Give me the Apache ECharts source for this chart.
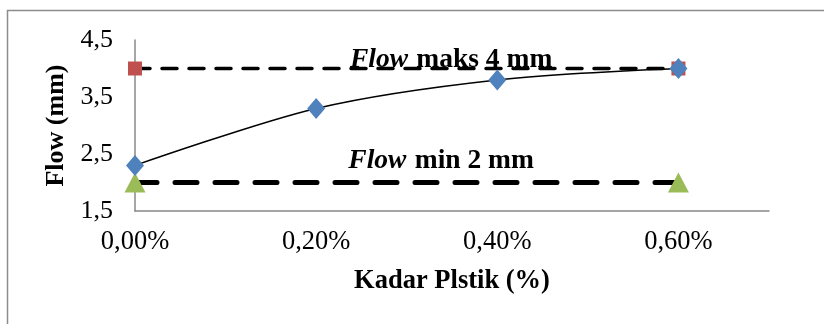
<!DOCTYPE html>
<html>
<head>
<meta charset="utf-8">
<script src="https://cdn.jsdelivr.net/npm/echarts@6/dist/echarts.min.js"></script>
<style>html,body{margin:0;padding:0;background:#fff}#c{width:824px;height:324px}</style>
</head>
<body>
<div id="c"></div>
<script>
var xTicks = [0, 0.2, 0.4, 0.6];
var yTicks = [1.5, 2.5, 3.5, 4.5];
var kadar = [0, 0.2, 0.4, 0.6];
var flow = [2.3, 3.3, 3.8, 4.0];
var maksX = [0, 0.6];
var maksY = [4, 4];
var minX = [0, 0.6];
var minY = [2, 2];

function pairs(xs, ys) { return xs.map(function (x, i) { return [x, ys[i]]; }); }
var FONT = 'Liberation Serif';
function fmt(d) { return function (v) { return v.toFixed(d).replace('.', ',') + (d === 2 ? '%' : ''); }; }

var chart = echarts.init(document.getElementById('c'), null, {renderer: 'canvas'});
var rich = {
  i: {fontFamily: FONT, fontSize: 27.5, fontWeight: 'bold', fontStyle: 'italic', color: '#000', padding: [0, 5, 0, 0]},
  b: {fontFamily: FONT, fontSize: 27.5, fontWeight: 'bold', color: '#000'}
};
chart.setOption({
  animation: false,
  backgroundColor: '#fff',
  graphic: [{
    type: 'rect', shape: {x: 7.5, y: 10.5, width: 900, height: 400},
    style: {fill: 'none', stroke: '#8c8c8c', lineWidth: 1.5}, silent: true, z: -10
  }],
  grid: {left: 135, right: 55, top: 40, bottom: 113},
  xAxis: {
    type: 'value', min: 0, max: 0.7,
    name: 'Kadar Plstik (%)', nameLocation: 'middle', nameGap: 57,
    nameTextStyle: {fontFamily: FONT, fontSize: 26.5, fontWeight: 'bold', color: '#000'},
    axisLine: {show: true, lineStyle: {color: '#888', width: 1.5}},
    axisTick: {show: false},
    splitLine: {show: false},
    axisLabel: {customValues: xTicks, formatter: fmt(2), fontFamily: FONT, fontSize: 26.5, color: '#000', margin: 18}
  },
  yAxis: {
    type: 'value', min: 1.5, max: 4.5,
    name: 'Flow (mm)', nameLocation: 'middle', nameGap: 64,
    nameTextStyle: {fontFamily: FONT, fontSize: 26, fontWeight: 'bold', color: '#000'},
    axisLine: {show: true, lineStyle: {color: '#888', width: 1.5}},
    axisTick: {show: false},
    splitLine: {show: false},
    axisLabel: {customValues: yTicks, formatter: fmt(1), fontFamily: FONT, fontSize: 26, color: '#000', margin: 22}
  },
  series: [
    {
      type: 'line', data: pairs(maksX, maksY), symbol: 'rect', symbolSize: 14,
      itemStyle: {color: '#C0504D'},
      lineStyle: {color: '#000', width: 3.5, type: [15, 12], cap: 'round'},
      z: 2,
      markPoint: {
        symbol: 'circle', symbolSize: 0,
        data: [{coord: [0.349, 4]}],
        label: {show: true, position: 'inside', offset: [0, -9], formatter: '{i|Flow} {b|maks 4 mm}', rich: rich}
      }
    },
    {
      type: 'line', data: pairs(minX, minY), symbol: 'triangle', symbolSize: [21, 20],
      itemStyle: {color: '#9BBB59'},
      lineStyle: {color: '#000', width: 5, type: [22, 18], cap: 'round'},
      z: 2,
      markPoint: {
        symbol: 'circle', symbolSize: 0,
        data: [{coord: [0.338, 2]}],
        label: {show: true, position: 'inside', offset: [0, -22], formatter: '{i|Flow} {b|min 2 mm}', rich: rich}
      }
    },
    {
      type: 'line', data: pairs(kadar, flow), smooth: 0.3,
      symbol: 'diamond', symbolSize: [18, 21],
      itemStyle: {color: '#4F81BD'},
      lineStyle: {color: '#000', width: 1.5},
      z: 3
    }
  ]
});
</script>
</body>
</html>
